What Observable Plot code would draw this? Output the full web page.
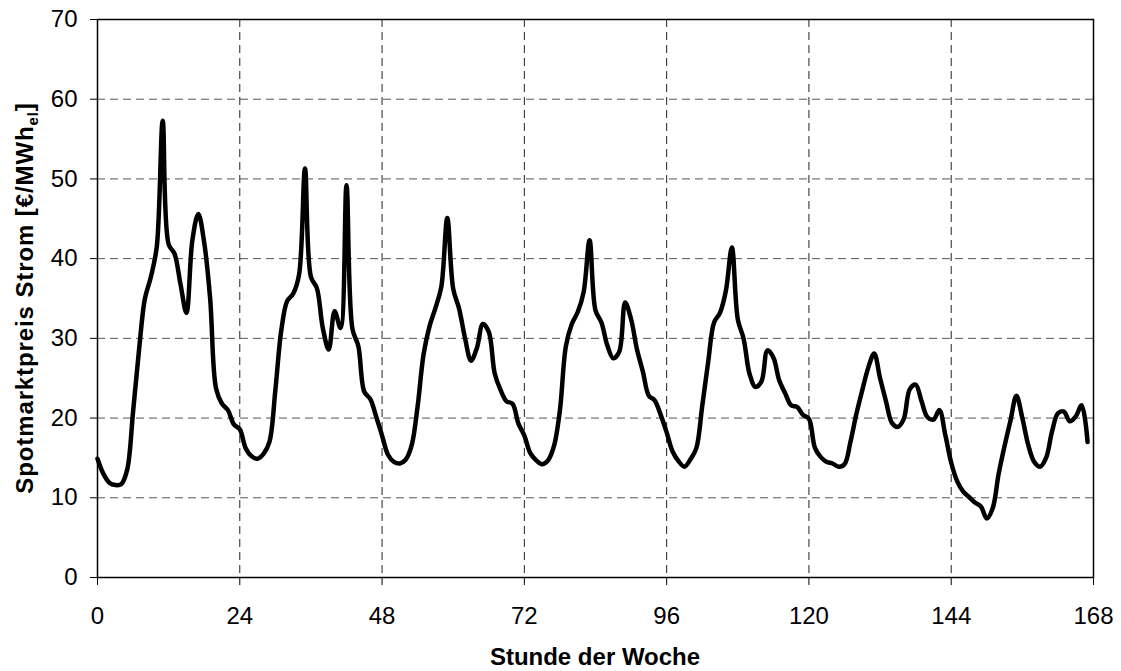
<!DOCTYPE html>
<html><head><meta charset="utf-8">
<script src="https://cdn.jsdelivr.net/npm/d3@7"></script>
<script src="https://cdn.jsdelivr.net/npm/@observablehq/plot@0.6"></script>
<style>body{margin:0;background:#fff;} svg{display:block;}</style>
</head><body><div id="chart"></div>
<script>
// Stunde der Woche 0..167
const hours = d3.range(0, 168);
// Spotmarktpreis Strom [€/MWh_el]
const prices = [
  14.9, 13.0, 11.9, 11.6, 11.7, 13.5, 20.8, 28.5, 35.0, 37.7,
  41.5, 57.3, 41.8, 40.6, 36.8, 33.2, 42.3, 45.6, 42.0, 35.0,
  23.7, 21.8, 21.0, 19.2, 18.6, 16.2, 15.2, 14.9, 15.5, 17.0,
  23.5, 31.0, 34.7, 35.6, 38.0, 51.3, 37.7, 36.3, 31.3, 28.6,
  33.4, 31.3, 49.2, 31.2, 29.0, 23.3, 22.4, 20.2, 17.8, 15.4,
  14.5, 14.3, 14.8, 16.6, 21.5, 28.0, 31.5, 33.8, 36.5, 45.1,
  36.2, 33.7, 30.0, 27.2, 28.8, 31.8, 30.8, 25.6, 23.5, 22.1,
  21.8, 19.3, 17.8, 15.6, 14.7, 14.2, 14.7, 16.5, 21.0, 29.0,
  31.8, 33.3, 35.8, 42.3, 33.5, 32.0, 29.1, 27.5, 28.3, 34.5,
  32.4, 28.6, 25.8, 22.8, 22.2, 20.4, 18.2, 15.8, 14.6, 13.9,
  14.8, 16.2, 21.5, 27.0, 32.0, 33.2, 36.0, 41.4, 32.4, 29.9,
  25.5, 23.9, 24.6, 28.5, 27.6, 24.7, 23.1, 21.6, 21.4, 20.4,
  19.9, 16.3, 15.1, 14.5, 14.3, 13.9, 14.2, 17.0, 20.5, 23.5,
  26.3, 28.1, 25.0, 22.1, 19.4, 18.9, 19.9, 23.6, 24.2, 22.1,
  20.1, 19.8, 21.0, 17.9, 14.4, 12.1, 10.8, 10.1, 9.4, 8.9,
  7.4, 8.7, 13.0, 16.5, 19.7, 22.8, 20.0, 16.6, 14.5, 13.9,
  15.0, 18.3, 20.6, 20.8, 19.6, 20.2, 21.6, 17.0
];
const xTicks = [0, 24, 48, 72, 96, 120, 144, 168];
const yTicks = [0, 10, 20, 30, 40, 50, 60, 70];
const xLabel = "Stunde der Woche";
const yLabelMain = "Spotmarktpreis Strom [€/MWh";
const yLabelSub = "el";
const yLabelEnd = "]";

const data = hours.map((h, i) => ({hour: h, price: prices[i]}));
const font = "'Liberation Sans', Arial, Helvetica, sans-serif";

const chart = Plot.plot({
  width: 1121,
  height: 671,
  marginLeft: 97,
  marginRight: 28,
  marginTop: 19,
  marginBottom: 94,
  style: {fontFamily: font, fontSize: "24px", background: "#fff", color: "#000"},
  x: {domain: [0, 168], ticks: xTicks},
  y: {domain: [0, 70], ticks: yTicks},
  marks: [
    Plot.gridY(yTicks.slice(1, -1), {stroke: "#555", strokeOpacity: 1, strokeDasharray: "8,5", strokeWidth: 1}),
    Plot.gridX(xTicks.slice(1, -1), {stroke: "#222", strokeOpacity: 1, strokeDasharray: "8,5", strokeWidth: 1}),
    Plot.frame({stroke: "#000", strokeWidth: 1.5}),
    Plot.axisX(xTicks, {tickSize: 8, tickPadding: 21, label: null, fontSize: 24, stroke: "#000"}),
    Plot.axisY(yTicks, {tickSize: 7, tickPadding: 13, label: null, fontSize: 24, stroke: "#000"}),
    Plot.line(data, {x: "hour", y: "price", stroke: "#000", strokeWidth: 4.5, curve: "catmull-rom", strokeLinejoin: "round"})
  ]
});

const xs = chart.scale("x");
const ys = chart.scale("y");
const svg = d3.select(chart);
svg.append("text")
  .attr("x", (xs.range[0] + xs.range[1]) / 2)
  .attr("y", ys.range[0] + 88)
  .attr("text-anchor", "middle")
  .attr("font-family", font)
  .attr("font-weight", "bold")
  .attr("font-size", 24)
  .attr("fill", "#000")
  .text(xLabel);

const yl = svg.append("text")
  .attr("transform", `translate(32.5,${(ys.range[0] + ys.range[1]) / 2}) rotate(-90)`)
  .attr("text-anchor", "middle")
  .attr("font-family", font)
  .attr("font-weight", "bold")
  .attr("font-size", 24)
  .attr("letter-spacing", 0.9)
  .attr("fill", "#000");
yl.append("tspan").text(yLabelMain);
yl.append("tspan").attr("font-size", 15).attr("dy", 5).text(yLabelSub);
yl.append("tspan").attr("dy", -5).text(yLabelEnd);

document.getElementById("chart").appendChild(chart);
</script>
</body></html>
